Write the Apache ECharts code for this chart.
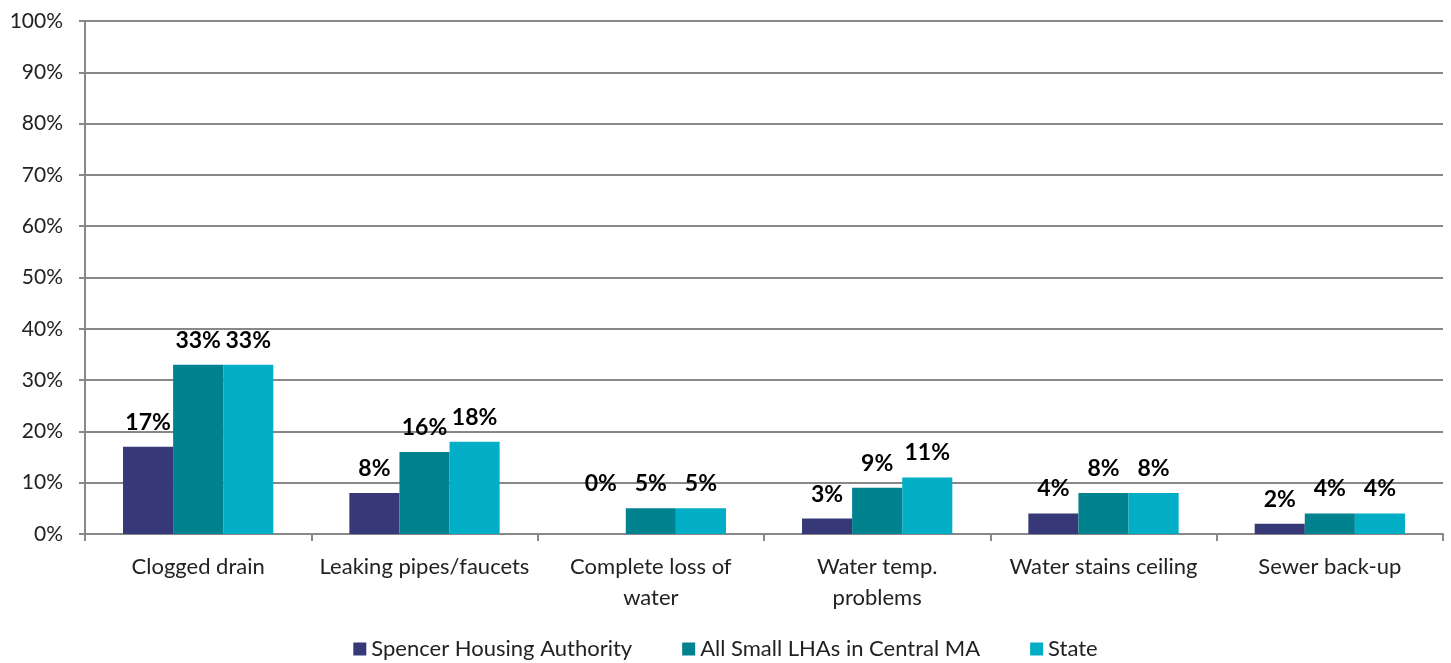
<!DOCTYPE html>
<html><head><meta charset="utf-8">
<script src="https://cdn.jsdelivr.net/npm/echarts@6/dist/echarts.min.js"></script>
<style>html,body{margin:0;padding:0;background:#fff}#c{width:1451px;height:663px}</style>
</head><body><div id="c"></div>
<script>
var categories = ["Clogged drain","Leaking pipes/faucets","Complete loss of\nwater","Water temp.\nproblems","Water stains ceiling","Sewer back-up"];
var seriesNames = ["Spencer Housing Authority","All Small LHAs in Central MA","State"];
var spencer = [17, 8, 0, 3, 4, 2];
var smallLHAs = [33, 16, 5, 9, 8, 4];
var state = [33, 18, 5, 11, 8, 4];
var colors = ["#363877", "#00828F", "#02ADC6"];
var FONT = "Lato";
var chart = echarts.init(document.getElementById('c'));
function mk(name, data, color){
  return {name:name, type:'bar', barGap:'0%', barCategoryGap:'33.6%',
    data:data.map(function(v){ return v === 0 ? {value:v, label:{offset:[0,-26]}} : v; }),
    itemStyle:{color:color},
    label:{show:true, position:'top', distance:13, formatter:'{c}%', fontFamily:FONT, fontWeight:'bold', fontSize:23, color:'#000'}};
}
chart.setOption({
  animation:false,
  textStyle:{fontFamily:FONT},
  grid:{left:85, right:8, top:21, bottom:129, containLabel:false},
  legend:{bottom:-2, left:'center', itemWidth:13, itemHeight:13, itemGap:50, icon:'rect',
    textStyle:{fontFamily:FONT, fontSize:22, color:'#222'}, data:seriesNames},
  xAxis:{type:'category', data:categories,
    axisLine:{lineStyle:{color:'#888', width:2}},
    axisTick:{show:true, length:7, lineStyle:{color:'#888', width:2}},
    axisLabel:{fontFamily:FONT, fontSize:22, color:'#222', margin:17, lineHeight:31, interval:0}},
  yAxis:{type:'value', min:0, max:100, interval:10,
    axisLine:{show:true, lineStyle:{color:'#888', width:2}},
    axisTick:{show:true, length:6, lineStyle:{color:'#888', width:2}},
    splitLine:{lineStyle:{color:'#888', width:2}},
    axisLabel:{formatter:'{value}%', fontFamily:FONT, fontSize:21, color:'#222', margin:22}},
  series:[mk(seriesNames[0], spencer, colors[0]), mk(seriesNames[1], smallLHAs, colors[1]), mk(seriesNames[2], state, colors[2])]
});
</script></body></html>
